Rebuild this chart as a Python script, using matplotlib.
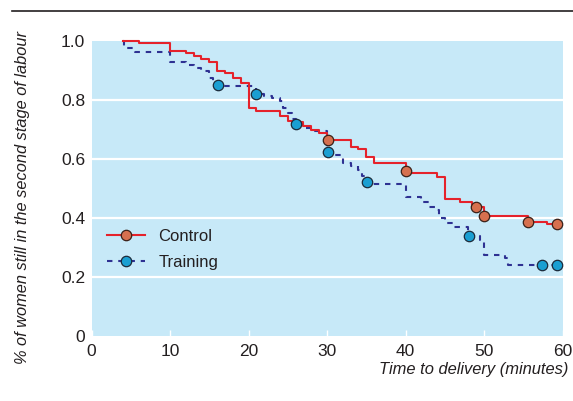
import matplotlib
matplotlib.use("Agg")
import matplotlib.pyplot as plt
from matplotlib.lines import Line2D

FONT = ['Liberation Sans', 'DejaVu Sans']
plt.rcParams['font.family'] = FONT

# Kaplan-Meier style step data (time in minutes, proportion remaining)
control_t = [4.0, 6.1, 10.0, 12.0, 13.0, 14.0, 15.0, 16.0, 17.0, 18.0, 19.0, 20.0, 21.0,
             24.0, 25.0, 25.5, 27.0, 28.0, 29.0, 30.0, 33.0, 34.0, 35.0, 36.0, 40.0,
             44.0, 45.0, 47.0, 48.5, 50.0, 55.6, 58.0, 59.3]
control_s = [1.000, 0.993, 0.967, 0.959, 0.949, 0.940, 0.929, 0.900, 0.893, 0.875, 0.858, 0.772, 0.763,
             0.746, 0.729, 0.724, 0.713, 0.698, 0.687, 0.664, 0.642, 0.634, 0.606, 0.588, 0.551,
             0.540, 0.464, 0.455, 0.436, 0.408, 0.386, 0.378, 0.378]

training_t = [4.0, 4.2, 5.5, 10.0, 12.0, 13.0, 14.0, 15.0, 15.5, 16.0, 21.0, 22.0, 23.0,
              24.0, 24.4, 25.0, 25.5, 26.0, 27.0, 28.0, 30.0, 31.0, 32.0, 33.0, 34.0,
              34.5, 35.0, 40.0, 42.0, 43.0, 44.0, 44.3, 45.0, 46.0, 48.0, 49.5, 50.0,
              52.7, 53.0, 59.3]
training_s = [1.000, 0.975, 0.964, 0.929, 0.919, 0.907, 0.900, 0.876, 0.860, 0.847, 0.820, 0.812, 0.806,
              0.798, 0.772, 0.755, 0.735, 0.718, 0.704, 0.695, 0.625, 0.615, 0.585, 0.576, 0.563,
              0.542, 0.515, 0.472, 0.455, 0.436, 0.427, 0.399, 0.384, 0.368, 0.340, 0.327, 0.275,
              0.263, 0.241, 0.241]

# Censoring markers
control_mx = [30.1, 40.0, 49.0, 50.0, 55.6, 59.3]
control_my = [0.664, 0.558, 0.436, 0.408, 0.387, 0.378]
training_mx = [16.1, 21.0, 26.0, 30.1, 35.1, 48.1, 57.4, 59.3]
training_my = [0.851, 0.820, 0.718, 0.625, 0.521, 0.339, 0.242, 0.242]

x_ticks = [0, 10, 20, 30, 40, 50, 60]
y_ticks = [0, 0.2, 0.4, 0.6, 0.8, 1.0]
y_ticklabels = ['0', '0.2', '0.4', '0.6', '0.8', '1.0']

RED = '#e5222b'
BLUE = '#2e3192'
C_FILL = '#d6704f'
T_FILL = '#1a9fd2'
BG = '#c7e9f8'
TXT = '#231f20'

fig = plt.figure(figsize=(5.73, 4.01), dpi=100)
ax = fig.add_axes([91.5 / 573, 65 / 401, 471 / 573, 295 / 401])
ax.set_facecolor(BG)
for s in ax.spines.values():
    s.set_visible(False)

ax.set_xlim(0, 60)
ax.set_ylim(0, 1.0)
for yv in y_ticks[1:-1]:
    ax.axhline(yv, color='white', lw=1.6, zorder=1)

ax.step(training_t, training_s, where='post', color=BLUE, lw=1.5,
        dashes=(2.6, 2.8), zorder=3, clip_on=False)
ax.step(control_t, control_s, where='post', color=RED, lw=1.5, zorder=4, clip_on=False)

ax.plot(training_mx, training_my, 'o', ms=7.5, mfc=T_FILL, mec='#1b2a3a', mew=0.9,
        zorder=5, clip_on=False)
ax.plot(control_mx, control_my, 'o', ms=7.5, mfc=C_FILL, mec='#3a2018', mew=0.9,
        zorder=6, clip_on=False)

ax.set_xticks(x_ticks)
ax.set_xticklabels([str(v) for v in x_ticks])
ax.set_yticks(y_ticks)
ax.set_yticklabels(y_ticklabels)
ax.tick_params(axis='x', direction='in', length=4, width=1, color='white', pad=6,
               labelsize=12.5, labelcolor=TXT)
ax.tick_params(axis='y', length=0, pad=4.5, labelsize=12.5, labelcolor=TXT)

fig.text(568 / 573, 1 - 369.5 / 401, 'Time to delivery (minutes)', ha='right', va='center',
         fontsize=11.9, style='italic', color=TXT)
fig.text(23 / 573, 1 - 197.5 / 401, '% of women still in the second stage of labour',
         ha='center', va='center', rotation=90, fontsize=11.75, style='italic', color=TXT)

# top rule
fig.add_artist(Line2D([12 / 573, 1.0], [1 - 11 / 401, 1 - 11 / 401], color=TXT, lw=1.2))

handles = [
    Line2D([], [], color=RED, lw=1.5, marker='o', ms=7.5, mfc=C_FILL, mec='#3a2018', mew=0.9),
    Line2D([], [], color=BLUE, lw=1.5, dashes=(2.6, 2.8), marker='o', ms=7.5, mfc=T_FILL,
           mec='#1b2a3a', mew=0.9),
]
leg = ax.legend(handles, ['Control', 'Training'], loc='center left',
                bbox_to_anchor=(0.032, 0.294), frameon=False, fontsize=12,
                handlelength=2.3, handletextpad=0.8, labelspacing=0.68,
                borderaxespad=0, borderpad=0)
for t in leg.get_texts():
    t.set_color(TXT)

fig.savefig('out.png', dpi=100)
